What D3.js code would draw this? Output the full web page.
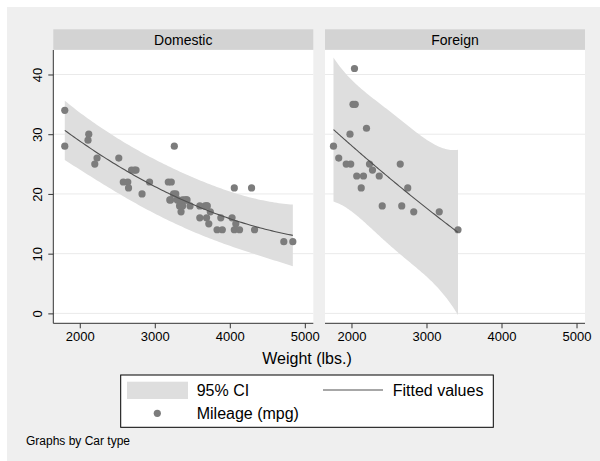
<!DOCTYPE html>
<html><head><meta charset="utf-8">
<script src="https://cdn.jsdelivr.net/npm/d3@7"></script>
<style>body{margin:0;background:#fff}svg{display:block;font-family:"Liberation Sans",Arial,sans-serif}</style>
</head><body>
<svg id="c" width="600" height="461"></svg>
<script>
// Data: auto dataset, weight (lbs.) and mileage (mpg) by car type
const domesticWeight = [2930,3350,2640,3250,4080,3670,2230,3280,3880,3400,4330,3900,4290,2110,3690,3180,3220,2750,3430,2120,3600,3600,3740,1800,2650,4840,4720,3830,2580,4060,3720,3370,4130,2830,4060,3310,3300,3690,3370,2730,4030,3260,1800,2200,2520,3330,3700,3470,3210,3200,3420,2690];
const domesticMpg    = [22,17,22,20,15,18,26,20,16,19,14,14,21,29,16,22,22,24,19,30,18,16,17,28,21,12,12,14,22,14,15,18,14,20,21,19,19,18,19,24,16,28,34,25,26,18,18,18,19,19,19,24];
const foreignWeight  = [2830,2070,2650,2370,2020,2280,2750,2130,2240,1760,1980,3420,1830,2050,2410,2200,2670,2160,2040,1930,1990,3170];
const foreignMpg     = [17,23,25,23,35,24,21,21,25,28,30,14,26,35,18,31,18,23,41,25,25,17];
const panelTitles = ["Domestic","Foreign"];
const xTicks = [2000,3000,4000,5000];
const yTicks = [0,10,20,30,40];
const legendLabels = ["95% CI","Fitted values","Mileage (mpg)"];
const xTitle = "Weight (lbs.)";
const note = "Graphs by Car type";

const foreign = foreignWeight.map((w,i)=>({x:w,y:foreignMpg[i]}));
const domestic = domesticWeight.map((w,i)=>({x:w,y:domesticMpg[i]}));

// ---- quadratic regression with forecast CI (Stata qfitci, stdf) ----
function inv3(m){
  const [a,b,c]=m[0],[d,e,f]=m[1],[g,h,k]=m[2];
  const A=e*k-f*h,B=-(d*k-f*g),C=d*h-e*g;
  const det=a*A+b*B+c*C;
  return [[A/det,-(b*k-c*h)/det,(b*f-c*e)/det],
          [B/det,(a*k-c*g)/det,-(a*f-c*d)/det],
          [C/det,-(a*h-b*g)/det,(a*e-b*d)/det]];
}
function lgamma(z){ const g=7,c=[0.99999999999980993,676.5203681218851,-1259.1392167224028,771.32342877765313,-176.61502916214059,12.507343278686905,-0.13857109526572012,9.9843695780195716e-6,1.5056327351493116e-7];
  if(z<0.5) return Math.log(Math.PI/Math.sin(Math.PI*z))-lgamma(1-z);
  z-=1; let x=c[0]; for(let i=1;i<g+2;i++) x+=c[i]/(z+i); const t=z+g+0.5;
  return 0.5*Math.log(2*Math.PI)+(z+0.5)*Math.log(t)-t+Math.log(x); }
function tpdf(t,df){ return Math.exp(lgamma((df+1)/2)-lgamma(df/2))/Math.sqrt(df*Math.PI)*Math.pow(1+t*t/df,-(df+1)/2); }
function tcdfPos(T,df){ const n=2000,h=T/n; let s=tpdf(0,df)+tpdf(T,df); for(let i=1;i<n;i++) s+=(i%2?4:2)*tpdf(i*h,df); return 0.5+s*h/3; }
function tq(p,df){ let lo=0,hi=10; for(let i=0;i<60;i++){const m=(lo+hi)/2; if(tcdfPos(m,df)<p) lo=m; else hi=m;} return (lo+hi)/2; }
function qfit(pts){
  const n=pts.length, X=pts.map(p=>[1,p.x,p.x*p.x]);
  const XtX=[[0,0,0],[0,0,0],[0,0,0]], Xty=[0,0,0];
  X.forEach((r,i)=>{for(let a=0;a<3;a++){Xty[a]+=r[a]*pts[i].y;for(let b=0;b<3;b++)XtX[a][b]+=r[a]*r[b];}});
  const inv=inv3(XtX);
  const beta=[0,1,2].map(a=>inv[a][0]*Xty[0]+inv[a][1]*Xty[1]+inv[a][2]*Xty[2]);
  let sse=0; X.forEach((r,i)=>{const f=beta[0]+beta[1]*r[1]+beta[2]*r[2]; sse+=(pts[i].y-f)**2;});
  const s2=sse/(n-3), t=tq(0.975,n-3);
  const [mn,mx]=d3.extent(pts,p=>p.x);
  return d3.range(100).map(i=>{
    const x=mn+(mx-mn)*i/99, v=[1,x,x*x];
    const f=beta[0]+beta[1]*x+beta[2]*x*x;
    let q=0; for(let a=0;a<3;a++)for(let b=0;b<3;b++) q+=v[a]*inv[a][b]*v[b];
    const se=Math.sqrt(s2*(1+q));
    return {x, f, lo:f-t*se, hi:f+t*se};
  });
}

const svg=d3.select("#c");
svg.append("rect").attr("x",7).attr("y",7).attr("width",593).attr("height",454).attr("fill","#efefef");

const y=d3.scaleLinear().domain([-1.66,44.1]).range([323.3,50]);
const panels=[{left:53.3,data:domestic,title:panelTitles[0]},{left:325,data:foreign,title:panelTitles[1]}];
const W=260;

panels.forEach((p,pi)=>{
  const x=d3.scaleLinear().domain([1647,5113]).range([p.left,p.left+W]);
  const g=svg.append("g");
  g.append("rect").attr("x",p.left).attr("y",29.3).attr("width",W).attr("height",20.5).attr("fill","#d3d3d3");
  g.append("text").attr("x",p.left+W/2).attr("y",44.5).attr("text-anchor","middle").attr("font-size",14).attr("fill","#000").text(p.title);
  g.append("rect").attr("x",p.left).attr("y",50).attr("width",W).attr("height",323.3-50).attr("fill","#fff");
  g.selectAll(".grid").data(yTicks).enter().append("line")
    .attr("x1",p.left).attr("x2",p.left+W).attr("y1",d=>y(d)).attr("y2",d=>y(d))
    .attr("stroke","#eaeaea").attr("stroke-width",1);
  const fit=qfit(p.data);
  g.append("path").datum(fit).attr("fill","#dedede")
    .attr("d",d3.area().x(d=>x(d.x)).y0(d=>y(d.lo)).y1(d=>y(d.hi)));
  g.selectAll(".pt").data(p.data).enter().append("circle")
    .attr("cx",d=>x(d.x)).attr("cy",d=>y(d.y)).attr("r",3.6).attr("fill","#7c7c7c");
  g.append("path").datum(fit).attr("fill","none").attr("stroke","#505050").attr("stroke-width",1.1)
    .attr("d",d3.line().x(d=>x(d.x)).y(d=>y(d.f)));
  const xa=g.append("g").attr("transform","translate(0,323.3)")
    .call(d3.axisBottom(x).tickValues(xTicks).tickSize(5).tickPadding(3).tickFormat(d3.format("d")));
  xa.select(".domain").attr("stroke","#333").attr("d",`M${p.left},0H${p.left+W}`);
  xa.selectAll(".tick line").attr("stroke","#333");
  xa.selectAll("text").attr("font-size",13).attr("fill","#000").attr("font-family","'Liberation Sans',Arial,sans-serif");
  if(pi===0){
    const ya=g.append("g").attr("transform",`translate(${p.left},0)`)
      .call(d3.axisLeft(y).tickValues(yTicks).tickSize(5).tickFormat(d3.format("d")));
    ya.select(".domain").attr("stroke","#333").attr("d","M0,50V323.3");
    ya.selectAll(".tick line").attr("stroke","#333");
    ya.selectAll("text").attr("font-size",13).attr("fill","#000").attr("font-family","'Liberation Sans',Arial,sans-serif")
      .attr("x",0).attr("dy",0).attr("text-anchor","middle")
      .attr("transform","translate(-11.5,0) rotate(-90)");
  }
});

svg.append("text").attr("x",307).attr("y",364).attr("text-anchor","middle").attr("font-size",16).text(xTitle);

const lg=svg.append("g");
lg.append("rect").attr("x",120.7).attr("y",375).attr("width",372.6).attr("height",52.3).attr("fill","#fff").attr("stroke","#000").attr("stroke-width",1);
lg.append("rect").attr("x",127).attr("y",381.7).attr("width",61).attr("height",17.3).attr("fill","#dedede");
lg.append("text").attr("x",196.7).attr("y",396).attr("font-size",16).text(legendLabels[0]);
lg.append("line").attr("x1",323).attr("x2",383).attr("y1",390).attr("y2",390).attr("stroke","#505050").attr("stroke-width",1.1);
lg.append("text").attr("x",392.7).attr("y",396).attr("font-size",16).text(legendLabels[1]);
lg.append("circle").attr("cx",157.3).attr("cy",413.3).attr("r",3.6).attr("fill","#7c7c7c");
lg.append("text").attr("x",196.7).attr("y",419).attr("font-size",16).text(legendLabels[2]);

svg.append("text").attr("x",26).attr("y",445).attr("font-size",12).text(note);
</script>
</body></html>
